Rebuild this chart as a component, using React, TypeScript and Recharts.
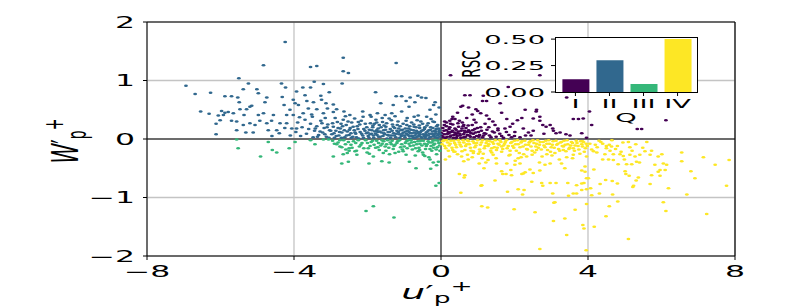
import React from 'react'
import {
  ScatterChart,
  Scatter,
  XAxis,
  YAxis,
  CartesianGrid,
  ReferenceLine,
  BarChart,
  Bar,
  Cell,
} from 'recharts'

// the figure is stretched sideways, so text is squashed back with this factor
const SX = 2.1
const FONT = 'DejaVu Sans'

// quadrant colours (viridis)
const qColors = ['#440154', '#31688e', '#35b779', '#fde725']

// inset: relative Reynolds-stress contribution per quadrant
const rscLabels = ['I', 'II', 'III', 'IV']
const rscValues = [0.12, 0.3, 0.075, 0.5]

const xTicks = [-8, -4, 0, 4, 8]
const yTicks = [-2, -1, 0, 1, 2]
const insetTicks = [0, 0.25, 0.5]

// Q1: u' > 0, w' > 0
const quadI: [number, number][] = [
  [0.03, 0.05], [0.08, 0.14], [0.12, 0.02], [0.15, 0.22], [0.18, 0.09], [0.22, 0.17], [0.25, 0.04],
  [0.28, 0.12], [0.32, 0.25], [0.35, 0.07], [0.38, 0.18], [0.42, 0.02], [0.45, 0.1], [0.48, 0.21],
  [0.52, 0.06], [0.55, 0.14], [0.58, 0.28], [0.62, 0.03], [0.65, 0.11], [0.68, 0.19], [0.72, 0.07],
  [0.75, 0.15], [0.8, 0.04], [0.85, 0.24], [0.88, 0.09], [0.92, 0.17], [0.97, 0.05], [1.02, 0.12],
  [1.08, 0.2], [1.13, 0.03], [1.18, 0.1], [1.25, 0.16], [1.32, 0.06], [1.4, 0.13], [1.5, 0.04],
  [1.6, 0.09], [1.7, 0.02], [1.85, 0.07], [2.0, 0.05], [2.15, 0.03], [0.1, 0.3], [0.3, 0.34],
  [0.5, 0.31], [0.7, 0.36], [0.95, 0.28], [1.2, 0.26], [0.05, 0.19], [0.4, 0.08], [0.78, 0.12],
  [1.05, 0.07], [0.54, 0.55], [0.75, 0.54], [1.13, 0.65], [1.0, 0.48], [1.08, 0.44], [1.24, 0.4],
  [1.31, 0.34], [1.41, 0.3], [1.47, 0.24], [0.32, 0.38], [0.38, 0.34], [0.24, 0.31], [0.15, 0.28],
  [1.79, 0.34], [2.08, 0.32], [2.2, 0.36], [2.6, 0.5], [2.51, 0.35], [2.69, 0.31], [2.77, 0.24],
  [2.86, 0.21], [2.97, 0.24], [3.04, 0.18], [3.42, 0.71], [3.6, 0.34], [3.74, 0.34], [3.06, 0.14],
  [3.13, 0.1], [3.24, 0.11], [3.4, 0.08], [3.51, 0.06], [4.1, 0.24], [3.96, 0.02], [2.24, 0.18],
  [2.38, 0.11], [2.51, 0.14], [1.74, 0.18], [1.88, 0.21], [2.01, 0.12], [0.26, 1.09], [0.65, 0.75],
  [0.79, 0.75], [1.15, 0.74], [1.61, 0.61], [1.24, 0.65], [0.59, 0.57], [0.95, 0.51], [2.29, 0.5],
  [2.59, 0.47], [2.69, 0.38], [2.69, 1.09], [1.83, 0.89], [4.04, 0.47], [5.34, 0.17], [5.46, 0.17],
  [6.12, 0.32], [3.87, 0.35], [3.83, 0.1], [0.2, 0.12], [0.6, 0.22], [0.9, 0.33], [1.55, 0.15],
  [2.45, 0.06], [2.8, 0.09], [1.95, 0.26], [0.45, 0.45], [0.85, 0.42], [1.65, 0.45],
  [0.02, 0.1], [0.06, 0.03], [0.1, 0.08], [0.14, 0.15], [0.17, 0.04], [0.21, 0.1], [0.24, 0.2],
  [0.27, 0.06], [0.31, 0.14], [0.34, 0.02], [0.37, 0.11], [0.41, 0.16], [0.44, 0.05], [0.47, 0.13],
  [0.51, 0.09], [0.54, 0.02], [0.57, 0.18], [0.61, 0.08], [0.64, 0.14], [0.67, 0.04], [0.71, 0.12],
  [0.74, 0.23], [0.77, 0.06], [0.82, 0.1], [0.86, 0.15], [0.9, 0.03], [0.94, 0.11], [0.99, 0.19],
  [1.03, 0.04], [1.1, 0.14], [1.16, 0.06], [1.22, 0.09], [1.3, 0.2], [1.36, 0.03], [1.45, 0.11],
  [1.55, 0.18], [1.65, 0.05], [1.78, 0.12], [1.92, 0.03], [2.3, 0.06], [0.09, 0.24], [0.26, 0.26],
  [0.46, 0.27], [0.62, 0.24],
]

// Q2: u' < 0, w' > 0
const quadII: [number, number][] = [
  [-4.24, 1.66], [-4.83, 1.26], [-5.5, 1.04], [-6.94, 0.91], [-6.69, 0.77], [-6.27, 0.79], [-5.88, 0.73],
  [-5.7, 0.73], [-5.53, 0.71], [-5.49, 0.63], [-5.38, 0.85], [-5.24, 0.95], [-5.01, 0.85], [-4.97, 0.78],
  [-5.2, 0.55], [-4.74, 0.71], [-4.79, 0.63], [-4.34, 0.95], [-4.23, 0.88], [-4.32, 0.72], [-4.27, 0.58],
  [-6.54, 0.47], [-6.31, 0.43], [-6.12, 0.26], [-6.12, 0.08], [-5.97, 0.48], [-6.06, 0.4], [-5.92, 0.41],
  [-6.01, 0.32], [-5.88, 0.45], [-5.79, 0.46], [-5.7, 0.31], [-5.56, 0.3], [-5.65, 0.44], [-5.47, 0.51],
  [-5.36, 0.41], [-5.29, 0.51], [-5.15, 0.57], [-5.56, 0.15], [-5.31, 0.11], [-5.11, 0.11], [-5.38, 0.24],
  [-5.2, 0.27], [-5.06, 0.24], [-4.93, 0.31], [-4.97, 0.41], [-4.83, 0.44], [-4.74, 0.27], [-4.61, 0.31],
  [-4.56, 0.41], [-4.47, 0.15], [-4.7, 0.15], [-4.38, 0.27], [-4.2, 0.27], [-4.2, 0.41], [-4.11, 0.5],
  [-4.02, 0.41], [-4.06, 0.18], [-3.93, 0.18], [-3.97, 0.61], [-3.93, 0.81], [-2.66, 1.39], [-3.55, 1.23],
  [-3.38, 1.25], [-2.66, 1.16], [-2.52, 1.13], [-1.22, 1.3], [-3.45, 0.98], [-3.2, 0.94], [-2.69, 0.95],
  [-3.76, 0.88], [-3.55, 0.88], [-3.7, 0.75], [-3.27, 0.74], [-3.04, 0.8], [-1.78, 0.8], [-1.22, 0.73],
  [-1.07, 0.73], [-0.63, 0.74], [-0.53, 0.71], [-0.41, 0.7], [-0.84, 0.71], [-0.95, 0.65], [-1.64, 0.61],
  [-1.3, 0.58], [-0.71, 0.63], [-0.16, 0.63], [-0.87, 0.55], [-4.02, 0.67], [-3.65, 0.65], [-3.47, 0.63],
  [-3.25, 0.67], [-3.13, 0.61], [-2.93, 0.59], [-2.84, 0.51], [-2.64, 0.47], [-3.88, 0.58], [-3.61, 0.52],
  [-3.38, 0.51], [-3.09, 0.52], [-3.75, 0.44], [-3.52, 0.42], [-3.2, 0.44], [-2.93, 0.46], [-2.48, 0.41],
  [-2.13, 0.47], [-1.93, 0.41], [-1.73, 0.44], [-1.52, 0.41], [-1.34, 0.44], [-1.07, 0.47], [-0.73, 0.38],
  [-0.39, 0.38], [-0.14, 0.42], [-0.3, 0.5], [-0.2, 0.58], [-0.05, 0.54],
  [-3.95, 0.12], [-3.9, 0.28], [-3.82, 0.05], [-3.78, 0.2], [-3.7, 0.33], [-3.66, 0.09], [-3.6, 0.17],
  [-3.55, 0.26], [-3.48, 0.03], [-3.44, 0.14], [-3.38, 0.22], [-3.33, 0.07], [-3.27, 0.31], [-3.22, 0.11],
  [-3.18, 0.19], [-3.12, 0.04], [-3.08, 0.25], [-3.03, 0.15], [-4.1, 0.06], [-4.25, 0.19], [-4.4, 0.1],
  [-4.6, 0.05], [-3.85, 0.37], [-3.5, 0.38], [-3.15, 0.36],
  [-2.97, 0.08], [-2.93, 0.21], [-2.9, 0.02], [-2.86, 0.14], [-2.82, 0.29], [-2.78, 0.06], [-2.74, 0.18],
  [-2.7, 0.11], [-2.66, 0.33], [-2.62, 0.03], [-2.58, 0.24], [-2.55, 0.13], [-2.5, 0.07], [-2.47, 0.19],
  [-2.43, 0.28], [-2.4, 0.04], [-2.36, 0.15], [-2.32, 0.09], [-2.28, 0.22], [-2.24, 0.01], [-2.2, 0.12],
  [-2.17, 0.31], [-2.13, 0.06], [-2.1, 0.17], [-2.06, 0.26], [-2.03, 0.1], [-2.88, 0.36], [-2.6, 0.39],
  [-2.35, 0.35], [-2.12, 0.38], [-2.72, 0.26], [-2.45, 0.1],
  [-1.98, 0.05], [-1.95, 0.16], [-1.92, 0.27], [-1.89, 0.09], [-1.86, 0.2], [-1.83, 0.02], [-1.8, 0.13],
  [-1.77, 0.33], [-1.74, 0.07], [-1.71, 0.18], [-1.68, 0.24], [-1.65, 0.04], [-1.62, 0.11], [-1.59, 0.29],
  [-1.56, 0.15], [-1.53, 0.08], [-1.5, 0.21], [-1.47, 0.01], [-1.44, 0.12], [-1.41, 0.35], [-1.38, 0.17],
  [-1.35, 0.06], [-1.32, 0.25], [-1.29, 0.1], [-1.26, 0.19], [-1.23, 0.03], [-1.2, 0.14], [-1.17, 0.3],
  [-1.14, 0.08], [-1.11, 0.22], [-1.08, 0.05], [-1.05, 0.16], [-1.02, 0.11], [-1.9, 0.38], [-1.6, 0.36],
  [-1.25, 0.39], [-1.72, 0.12], [-1.42, 0.06], [-1.15, 0.18], [-1.85, 0.23],
  [-0.98, 0.03], [-0.96, 0.13], [-0.93, 0.24], [-0.9, 0.07], [-0.88, 0.18], [-0.85, 0.01], [-0.83, 0.1],
  [-0.8, 0.28], [-0.78, 0.05], [-0.75, 0.15], [-0.73, 0.21], [-0.7, 0.02], [-0.68, 0.09], [-0.65, 0.32],
  [-0.63, 0.12], [-0.6, 0.06], [-0.58, 0.19], [-0.55, 0.04], [-0.53, 0.14], [-0.5, 0.26], [-0.48, 0.08],
  [-0.45, 0.17], [-0.43, 0.02], [-0.4, 0.11], [-0.38, 0.23], [-0.35, 0.06], [-0.33, 0.15], [-0.3, 0.03],
  [-0.28, 0.2], [-0.25, 0.09], [-0.23, 0.13], [-0.2, 0.05], [-0.18, 0.29], [-0.15, 0.1], [-0.13, 0.17],
  [-0.1, 0.02], [-0.08, 0.07], [-0.05, 0.12], [-0.03, 0.04], [-0.92, 0.36], [-0.62, 0.4], [-0.27, 0.34],
  [-0.12, 0.22], [-0.72, 0.11], [-0.42, 0.05], [-0.17, 0.14], [-0.57, 0.08], [-0.87, 0.12], [-0.35, 0.27],
  [-0.07, 0.18],
  [-3.42, 0.18], [-3.36, 0.04], [-3.29, 0.13], [-3.24, 0.27], [-3.16, 0.08], [-3.1, 0.2], [-3.05, 0.02],
  [-3.0, 0.14], [-2.95, 0.27], [-2.91, 0.1], [-2.85, 0.05], [-2.8, 0.19], [-2.76, 0.12], [-2.71, 0.02],
  [-2.68, 0.22], [-2.63, 0.15], [-2.57, 0.06], [-2.53, 0.3], [-2.49, 0.16], [-2.44, 0.02], [-2.39, 0.21],
  [-2.34, 0.11], [-2.3, 0.03], [-2.26, 0.17], [-2.21, 0.25], [-2.16, 0.09], [-2.11, 0.02], [-2.07, 0.14],
  [-2.02, 0.2], [-1.99, 0.11], [-1.96, 0.02], [-1.93, 0.08], [-1.88, 0.15], [-1.84, 0.06], [-1.81, 0.26],
  [-1.78, 0.09], [-1.75, 0.15], [-1.7, 0.04], [-1.67, 0.13], [-1.63, 0.2], [-1.58, 0.05], [-1.55, 0.1],
  [-1.51, 0.16], [-1.48, 0.27], [-1.45, 0.07], [-1.4, 0.12], [-1.37, 0.02], [-1.33, 0.14], [-1.3, 0.21],
  [-1.27, 0.06], [-1.22, 0.09], [-1.19, 0.24], [-1.16, 0.12], [-1.12, 0.02], [-1.09, 0.15], [-1.06, 0.09],
  [-1.03, 0.26], [-1.0, 0.06], [-0.97, 0.18], [-0.94, 0.09], [-0.91, 0.14], [-0.86, 0.05], [-0.82, 0.16],
  [-0.79, 0.1], [-0.76, 0.02], [-0.74, 0.25], [-0.71, 0.06], [-0.67, 0.14], [-0.64, 0.04], [-0.61, 0.1],
  [-0.59, 0.23], [-0.56, 0.12], [-0.52, 0.02], [-0.49, 0.15], [-0.46, 0.05], [-0.44, 0.2], [-0.41, 0.08],
  [-0.37, 0.13], [-0.34, 0.01], [-0.31, 0.09], [-0.29, 0.16], [-0.26, 0.04], [-0.22, 0.19], [-0.19, 0.08],
  [-0.16, 0.03], [-0.14, 0.13], [-0.11, 0.06], [-0.09, 0.24], [-0.06, 0.09], [-0.04, 0.15], [-0.02, 0.08],
  [-0.95, 0.31], [-0.55, 0.3], [-0.22, 0.3], [-1.35, 0.32], [-1.75, 0.28], [-2.25, 0.29], [-0.68, 0.2],
  [-0.85, 0.22], [-1.55, 0.23],
]

// Q3: u' < 0, w' < 0
const quadIII: [number, number][] = [
  [-5.56, -0.01], [-5.52, -0.16], [-4.7, -0.05], [-4.59, -0.19], [-4.47, -0.23], [-4.91, -0.3], [-4.13, -0.16],
  [-3.97, -0.05], [-3.55, -0.02], [-3.43, -0.09], [-3.2, -0.01], [-3.06, -0.01], [-2.84, -0.09], [-2.75, -0.13],
  [-2.93, -0.3], [-2.7, -0.42], [-2.66, -0.26], [-2.55, -0.24], [-2.52, -0.39], [-2.59, -0.18], [-2.5, -0.16],
  [-2.34, -0.21], [-2.29, -0.27], [-2.01, -0.23], [-1.96, -0.42], [-1.84, -0.3], [-1.61, -0.38], [-1.41, -0.4],
  [-1.57, -0.24], [-1.25, -0.24], [-0.95, -0.27], [-0.86, -0.39], [-0.68, -0.5], [-0.48, -0.27], [-0.44, -0.29],
  [-0.28, -0.51], [-0.21, -0.4], [-0.07, -0.39], [-0.05, -0.75], [-0.14, -0.8], [-2.04, -1.23], [-1.84, -1.15],
  [-1.28, -1.34], [-0.25, -0.2], [-0.3, -0.35], [-0.12, -0.45],
  [-2.95, -0.03], [-2.8, -0.06], [-2.65, -0.02], [-2.45, -0.1], [-2.38, -0.04], [-2.22, -0.13], [-2.15, -0.07],
  [-2.05, -0.02], [-1.98, -0.16], [-1.9, -0.05], [-1.82, -0.1], [-1.75, -0.03], [-1.68, -0.19], [-1.6, -0.08],
  [-1.52, -0.13], [-1.45, -0.02], [-1.38, -0.06], [-1.3, -0.17], [-1.25, -0.1], [-1.18, -0.04], [-1.1, -0.14],
  [-1.03, -0.21], [-0.97, -0.07], [-0.9, -0.02], [-0.84, -0.12], [-0.78, -0.18], [-0.72, -0.05], [-0.66, -0.09],
  [-0.6, -0.15], [-0.55, -0.03], [-0.5, -0.23], [-0.45, -0.08], [-0.4, -0.12], [-0.35, -0.04], [-0.3, -0.17],
  [-0.25, -0.06], [-0.2, -0.1], [-0.15, -0.02], [-0.1, -0.14], [-0.06, -0.07], [-0.03, -0.2], [-2.7, -0.14],
  [-2.3, -0.2], [-1.95, -0.25], [-1.4, -0.26], [-1.15, -0.22], [-0.7, -0.28], [-0.33, -0.31], [-0.12, -0.26],
  [-1.6, -0.02], [-0.92, -0.16], [-0.52, -0.11], [-1.72, -0.14], [-1.35, -0.09], [-0.8, -0.06], [-0.62, -0.21],
  [-2.9, -0.08], [-2.75, -0.02], [-2.6, -0.09], [-2.52, -0.05], [-2.42, -0.15], [-2.32, -0.07], [-2.25, -0.02],
  [-2.18, -0.1], [-2.1, -0.16], [-2.0, -0.07], [-1.93, -0.12], [-1.86, -0.03], [-1.78, -0.15], [-1.7, -0.07],
  [-1.64, -0.11], [-1.56, -0.04], [-1.48, -0.09], [-1.42, -0.15], [-1.33, -0.03], [-1.28, -0.12], [-1.2, -0.07],
  [-1.13, -0.02], [-1.07, -0.09], [-1.0, -0.13], [-0.94, -0.04], [-0.87, -0.08], [-0.82, -0.02], [-0.75, -0.11],
  [-0.69, -0.16], [-0.63, -0.04], [-0.57, -0.08], [-0.48, -0.03], [-0.42, -0.17], [-0.38, -0.09], [-0.32, -0.06],
  [-0.27, -0.12], [-0.22, -0.03], [-0.17, -0.08], [-0.13, -0.18], [-0.08, -0.03], [-0.04, -0.11], [-1.05, -0.18],
  [-1.5, -0.2], [-2.5, -0.2], [-0.58, -0.19], [-0.2, -0.15],
]

// Q4: u' > 0, w' < 0
const quadIV: [number, number][] = [
  [0.05, -0.04], [0.1, -0.12], [0.15, -0.02], [0.2, -0.2], [0.25, -0.08], [0.3, -0.15], [0.35, -0.03],
  [0.4, -0.1], [0.45, -0.26], [0.5, -0.06], [0.55, -0.13], [0.6, -0.02], [0.65, -0.19], [0.7, -0.09],
  [0.75, -0.04], [0.8, -0.15], [0.85, -0.31], [0.9, -0.07], [0.95, -0.11], [1.0, -0.02], [1.05, -0.18],
  [1.1, -0.06], [1.15, -0.25], [1.2, -0.12], [1.25, -0.03], [1.3, -0.09], [1.35, -0.2], [1.4, -0.05],
  [1.45, -0.14], [1.5, -0.33], [1.55, -0.08], [1.6, -0.02], [1.65, -0.22], [1.7, -0.11], [1.75, -0.05],
  [1.8, -0.16], [1.85, -0.28], [1.9, -0.07], [1.95, -0.12], [2.0, -0.03], [2.05, -0.2], [2.1, -0.09],
  [2.15, -0.14], [2.2, -0.04], [2.25, -0.26], [2.3, -0.1], [2.35, -0.18], [2.4, -0.06], [2.45, -0.13],
  [2.5, -0.02], [2.55, -0.23], [2.6, -0.08], [2.65, -0.15], [2.7, -0.05], [2.75, -0.3], [2.8, -0.11],
  [2.85, -0.03], [2.9, -0.19], [2.95, -0.08], [3.0, -0.14], [3.05, -0.04], [3.1, -0.24], [3.15, -0.1],
  [3.2, -0.17], [3.25, -0.06], [3.3, -0.12], [3.35, -0.03], [3.4, -0.21], [3.45, -0.09], [3.5, -0.15],
  [3.55, -0.05], [3.6, -0.27], [3.65, -0.11], [3.7, -0.07], [3.75, -0.18], [3.8, -0.04], [3.85, -0.13],
  [3.9, -0.22], [3.95, -0.08], [0.12, -0.35], [0.62, -0.38], [1.28, -0.36], [2.02, -0.37], [2.68, -0.4],
  [3.22, -0.35], [0.35, -0.22], [0.88, -0.21], [1.42, -0.27], [2.18, -0.31], [3.02, -0.28], [3.58, -0.33],
  [4.2, -0.1], [4.35, -0.05], [4.5, -0.16], [4.65, -0.02], [4.8, -0.12], [4.95, -0.06], [0.72, -0.27],
  [1.12, -0.33], [2.48, -0.27], [3.42, -0.31],
  [0.38, -0.22], [0.23, -0.3], [0.56, -0.3], [0.74, -0.35], [1.04, -0.42], [1.22, -0.4], [1.17, -0.5],
  [0.5, -0.6], [0.63, -0.66], [0.54, -0.92], [1.09, -0.8], [1.47, -0.71], [1.68, -0.6], [1.77, -0.6],
  [1.9, -0.53], [1.92, -0.62], [1.81, -0.9], [2.1, -0.86], [2.26, -0.87], [1.11, -1.15], [1.27, -1.17],
  [1.99, -1.2], [2.56, -1.25], [2.69, -1.88], [2.24, -0.59], [2.42, -0.52], [2.51, -0.58], [2.69, -0.54],
  [2.47, -0.73], [2.74, -0.75], [2.77, -0.8], [2.97, -0.75], [3.13, -0.75], [3.04, -0.93], [3.07, -1.09],
  [3.06, -1.4], [3.37, -1.36], [3.42, -1.64], [3.45, -0.75], [3.47, -0.97], [3.6, -0.93], [3.69, -0.93],
  [3.65, -1.21], [3.69, -0.79], [3.89, -0.75], [3.96, -0.67], [3.86, -1.47], [3.89, -1.53], [3.96, -1.11],
  [3.95, -1.9], [2.83, -0.44], [2.97, -0.42], [3.28, -0.42], [3.37, -0.5], [3.83, -0.54], [3.92, -0.47],
  [3.96, -0.3], [1.51, -0.42], [1.79, -0.42], [2.01, -0.44], [2.15, -0.42], [1.88, -0.27], [2.1, -0.33],
  [2.33, -0.3], [1.38, -0.16], [1.51, -0.19], [1.65, -0.13], [2.6, -0.19], [2.88, -0.26], [3.33, -0.19],
  [3.6, -0.16], [0.88, -0.24], [1.06, -0.22],
  [5.1, -0.05], [4.58, -0.1], [4.64, -0.13], [5.14, -0.14], [5.49, -0.15], [5.73, -0.2], [6.55, -0.23],
  [7.14, -0.31], [7.84, -0.36], [7.46, -0.44], [6.55, -0.38], [6.01, -0.26], [5.91, -0.3], [5.41, -0.27],
  [5.28, -0.3], [5.14, -0.27], [4.96, -0.29], [4.87, -0.26], [4.69, -0.26], [4.46, -0.26], [4.24, -0.23],
  [4.15, -0.21], [5.55, -0.21], [5.69, -0.27], [4.4, -0.35], [4.56, -0.35], [4.69, -0.36], [4.99, -0.35],
  [5.32, -0.39], [5.4, -0.4], [4.82, -0.43], [5.05, -0.43], [5.19, -0.43], [5.82, -0.44], [6.05, -0.42],
  [6.14, -0.44], [5.01, -0.55], [5.03, -0.6], [5.12, -0.63], [5.37, -0.66], [5.31, -0.71], [5.73, -0.62],
  [5.96, -0.63], [5.91, -0.56], [5.96, -0.53], [6.1, -0.53], [5.69, -0.77], [5.22, -0.82], [6.19, -0.84],
  [4.8, -0.76], [4.66, -0.72], [4.48, -0.7], [4.33, -0.77], [4.67, -0.95], [4.31, -0.93], [4.07, -0.84],
  [3.96, -0.86], [3.83, -0.87], [4.1, -0.96], [4.16, -0.52], [3.92, -0.56], [4.01, -0.67], [3.83, -0.76],
  [6.69, -0.95], [6.91, -0.67], [6.8, -0.55], [7.77, -0.8], [4.81, -1.07], [4.58, -1.15], [4.49, -1.32],
  [6.05, -1.08], [6.12, -1.23], [7.23, -1.28], [4.17, -1.5], [5.1, -1.71], [0.65, -0.62], [1.11, -0.79],
  [1.65, -0.55], [2.2, -0.6], [2.29, -0.57], [2.22, -0.95], [3.1, -1.08], [5.24, -0.8], [3.85, -0.04],
  [4.05, -0.08], [4.3, -0.03], [4.5, -0.12], [5.3, -0.09], [5.6, -0.05],
  [0.03, -0.09], [0.08, -0.02], [0.13, -0.16], [0.18, -0.06], [0.22, -0.11], [0.27, -0.03], [0.32, -0.19],
  [0.37, -0.07], [0.42, -0.14], [0.47, -0.02], [0.52, -0.1], [0.57, -0.21], [0.62, -0.06], [0.67, -0.12],
  [0.72, -0.02], [0.77, -0.09], [0.82, -0.2], [0.87, -0.04], [0.92, -0.14], [0.97, -0.07], [1.02, -0.25],
  [1.07, -0.1], [1.13, -0.02], [1.18, -0.16], [1.23, -0.07], [1.28, -0.12], [1.33, -0.04], [1.38, -0.23],
  [1.43, -0.08], [1.48, -0.02], [1.53, -0.15], [1.58, -0.1], [1.63, -0.05], [1.68, -0.17], [1.73, -0.08],
  [1.78, -0.02], [1.83, -0.12], [1.88, -0.2], [1.93, -0.05], [1.98, -0.15], [2.03, -0.09], [2.08, -0.02],
  [2.13, -0.24], [2.18, -0.06], [2.23, -0.13], [2.28, -0.03], [2.33, -0.17], [2.38, -0.1], [2.43, -0.04],
  [2.48, -0.2], [2.53, -0.07], [2.58, -0.13], [2.63, -0.02], [2.68, -0.1], [2.73, -0.18], [2.78, -0.05],
  [2.83, -0.14], [2.88, -0.08], [2.93, -0.02], [2.98, -0.22], [3.03, -0.1], [3.08, -0.15], [3.13, -0.03],
  [3.18, -0.08], [3.23, -0.2], [3.28, -0.05], [3.33, -0.13], [3.38, -0.1], [3.43, -0.02], [3.48, -0.17],
  [3.53, -0.11], [3.58, -0.07], [3.63, -0.2], [3.68, -0.03], [3.73, -0.12], [3.78, -0.25], [3.83, -0.09],
  [3.88, -0.05], [3.93, -0.16], [3.98, -0.12], [4.1, -0.18], [4.25, -0.14], [4.4, -0.08], [4.6, -0.2],
  [4.75, -0.17], [4.9, -0.22], [5.2, -0.2],
]

const toPoints = (arr: [number, number][]) => arr.map(([u, w]) => ({ u, w }))

const fmt = (v: number) => (v < 0 ? '\u2212' + Math.abs(v) : String(v))

function dotShape(color: string) {
  return (props: any) => (
    <ellipse cx={props.cx} cy={props.cy} rx={1.9} ry={1.25} fill={color} />
  )
}

function XTick({ x, y, payload }: any) {
  return (
    <text
      transform={`translate(${x},${y + 15}) scale(${SX},1)`}
      textAnchor="middle"
      fontFamily={FONT}
      fontSize={15}
      fill="#000"
    >
      {fmt(payload.value)}
    </text>
  )
}

function YTick({ x, y, payload }: any) {
  return (
    <text
      transform={`translate(${x},${y + 5.5}) scale(${SX},1)`}
      textAnchor="end"
      fontFamily={FONT}
      fontSize={15}
      fill="#000"
    >
      {fmt(payload.value)}
    </text>
  )
}

function InsetXTick({ x, y, payload }: any) {
  return (
    <text
      transform={`translate(${x},${y + 9.5}) scale(${SX},1)`}
      textAnchor="middle"
      fontFamily={FONT}
      fontSize={13}
      fill="#000"
    >
      {payload.value}
    </text>
  )
}

function InsetYTick({ x, y, payload }: any) {
  return (
    <text
      transform={`translate(${x},${y + 4.7}) scale(${SX},1)`}
      textAnchor="end"
      fontFamily={FONT}
      fontSize={13}
      fill="#000"
    >
      {payload.value.toFixed(2)}
    </text>
  )
}

const gridGrey = '#c4c4c4'
const zeroGrey = '#4a4a4a'

export default function App() {
  const rscData = rscLabels.map((q, i) => ({ q, rsc: rscValues[i] }))
  const series = [quadI, quadII, quadIII, quadIV]

  return (
    <div style={{ position: 'absolute', left: 0, top: 0, width: 793, height: 307, background: '#fff' }}>
      <ScatterChart
        width={793}
        height={307}
        margin={{ top: 22, right: 58, bottom: 21, left: 87 }}
      >
        <CartesianGrid stroke={gridGrey} strokeWidth={1.3} />
        <XAxis
          type="number"
          dataKey="u"
          domain={[-8, 8]}
          ticks={xTicks}
          allowDataOverflow
          height={30}
          tickSize={4}
          tickMargin={2}
          stroke="#000"
          tick={<XTick />}
        />
        <YAxis
          type="number"
          dataKey="w"
          domain={[-2, 2]}
          ticks={yTicks}
          allowDataOverflow
          width={60}
          tickSize={4}
          tickMargin={8}
          stroke="#000"
          tick={<YTick />}
        />
        <ReferenceLine x={0} stroke={zeroGrey} strokeWidth={1.4} />
        <ReferenceLine y={0} stroke={zeroGrey} strokeWidth={1.4} />
        {series.map((s, i) => (
          <Scatter
            key={rscLabels[i]}
            data={toPoints(s)}
            fill={qColors[i]}
            shape={dotShape(qColors[i])}
            isAnimationActive={false}
          />
        ))}
        <ReferenceLine y={2} stroke="#000" strokeWidth={1.2} />
        <ReferenceLine x={8} stroke="#000" strokeWidth={1.2} />
      </ScatterChart>

      {/* inset background */}
      <div style={{ position: 'absolute', left: 555, top: 37, width: 143, height: 55, background: '#fff' }} />

      <div style={{ position: 'absolute', left: 450, top: 20 }}>
        <BarChart
          width={260}
          height={110}
          data={rscData}
          margin={{ top: 17, right: 12, bottom: 18, left: 55 }}
        >
          <XAxis
            dataKey="q"
            height={20}
            tickSize={4}
            tickMargin={2}
            stroke="#000"
            axisLine={false}
            padding={{ left: 3.4, right: 3.4 }}
            tick={<InsetXTick />}
          />
          <YAxis
            domain={[0, 0.52]}
            ticks={insetTicks}
            allowDataOverflow
            width={50}
            tickSize={4}
            tickMargin={6}
            stroke="#000"
            axisLine={false}
            tick={<InsetYTick />}
          />
          <Bar dataKey="rsc" barSize={27} isAnimationActive={false}>
            {rscData.map((d, i) => (
              <Cell key={d.q} fill={qColors[i]} />
            ))}
          </Bar>
        </BarChart>
      </div>

      {/* inset frame */}
      <div
        style={{
          position: 'absolute',
          left: 555,
          top: 37,
          width: 143,
          height: 56,
          border: '1.2px solid #000',
          boxSizing: 'border-box',
          pointerEvents: 'none',
        }}
      />

      <svg
        width={793}
        height={307}
        style={{ position: 'absolute', left: 0, top: 0, pointerEvents: 'none' }}
      >
        <text
          transform={`translate(437,299) scale(${SX * 0.9},1)`}
          textAnchor="middle"
          fontFamily={FONT}
          fontSize={20}
          fill="#000"
        >
          <tspan fontStyle="italic">u</tspan>
          <tspan>′</tspan>
          <tspan fontSize={14} dy={4}>p</tspan>
          <tspan fontSize={14} dy={-12}>+</tspan>
        </text>
        <text
          transform={`translate(78,141) scale(${SX * 0.9},1) rotate(-90)`}
          textAnchor="middle"
          fontFamily={FONT}
          fontSize={20}
          fill="#000"
        >
          <tspan fontStyle="italic">W</tspan>
          <tspan>′</tspan>
          <tspan fontSize={14} dy={4}>p</tspan>
          <tspan fontSize={14} dy={-12}>+</tspan>
        </text>
        <text
          transform={`translate(480,64) scale(${SX * 0.9},1) rotate(-90)`}
          textAnchor="middle"
          fontFamily={FONT}
          fontSize={13.5}
          fill="#000"
        >
          RSC
        </text>
        <text
          transform={`translate(626,122) scale(${SX},1)`}
          textAnchor="middle"
          fontFamily={FONT}
          fontSize={13}
          fill="#000"
        >
          Q
        </text>
      </svg>
    </div>
  )
}
